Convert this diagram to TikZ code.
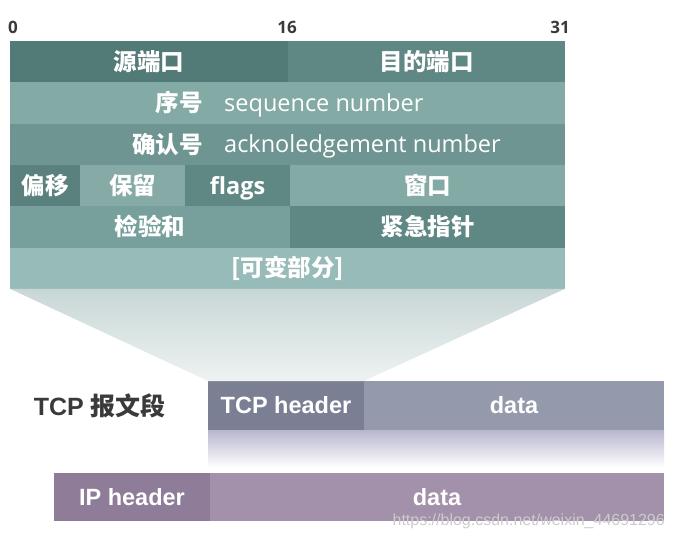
\documentclass[tikz,border=0pt]{standalone}
\usepackage{fontspec}
\setmainfont{Open Sans}
\newfontfamily\cjk{Noto Sans CJK SC}
\newfontfamily\arial{Liberation Sans}
\usepackage{tikz}
\usetikzlibrary{positioning}

\definecolor{srcC}{HTML}{527A76}
\definecolor{dstC}{HTML}{5F8784}
\definecolor{seqC}{HTML}{84AAA6}
\definecolor{ackC}{HTML}{6E9592}
\definecolor{offC}{HTML}{5A817D}
\definecolor{rsvC}{HTML}{86ABA7}
\definecolor{flgC}{HTML}{5F8783}
\definecolor{winC}{HTML}{84AAA6}
\definecolor{chkC}{HTML}{77A09C}
\definecolor{urgC}{HTML}{5F8783}
\definecolor{optC}{HTML}{97BBB8}
\definecolor{trapTop}{HTML}{C8D7D6}
\definecolor{trapBot}{HTML}{EEF2F2}
\definecolor{tcphC}{HTML}{7A7F94}
\definecolor{tcpdC}{HTML}{9499AC}
\definecolor{fadeC}{HTML}{B8B6CE}
\definecolor{iphC}{HTML}{8E7C98}
\definecolor{ipdC}{HTML}{A390AA}
\definecolor{numC}{HTML}{3A3A3A}

\begin{document}
\begin{tikzpicture}[
  x=1pt, y=-1pt,
  cell/.style={fill=#1, minimum height=41.3pt, inner sep=0pt, outer sep=0pt,
    text=white, font=\cjk\bfseries\fontsize{23.5}{23.5}\selectfont},
  cntext/.style={inner sep=0pt, text=white, font=\cjk\bfseries\fontsize{23.5}{23.5}\selectfont},
  entext/.style={inner sep=0pt, text=white, yshift=-2pt, font=\fontsize{23.5}{23.5}\selectfont},
  bitnum/.style={inner sep=0pt, text=numC, font=\bfseries\fontsize{17}{17}\selectfont},
  pkt/.style={fill=#1, inner sep=0pt, outer sep=0pt, text=white,
    font=\arial\bfseries\fontsize{23.5}{23.5}\selectfont}
]
\useasboundingbox (0,0) rectangle (676,540);

% Bit positions
\node[bitnum] (b0) at (13,27) {0};
\node[bitnum] (b16) at (287,27) {16};
\node[bitnum] (b31) at (560,27) {31};

% Header rows
\node[cell=srcC, minimum width=278pt, anchor=north west] (src) at (10,41) {源端口};
\node[cell=dstC, minimum width=277pt, right=0pt of src] (dst) {目的端口};
\node[cell=seqC, minimum width=555pt, below right=0pt and 0pt of src.south west] (seq) {};
\node[cell=ackC, minimum width=555pt, below right=0pt and 0pt of seq.south west] (ack) {};
\node[cell=offC, minimum width=70pt, below right=0pt and 0pt of ack.south west] (off) {偏移};
\node[cell=rsvC, minimum width=105pt, right=0pt of off] (rsv) {保留};
\node[cell=flgC, minimum width=105pt, right=0pt of rsv, text depth=0pt,
  font=\bfseries\fontsize{23.5}{23.5}\selectfont] (flg) {flags};
\node[cell=winC, minimum width=275pt, right=0pt of flg] (win) {窗口};
\node[cell=chkC, minimum width=280pt, below right=0pt and 0pt of off.south west] (chk) {检验和};
\node[cell=urgC, minimum width=275pt, right=0pt of chk] (urg) {紧急指针};
\node[cell=optC, minimum width=555pt, below right=0pt and 0pt of chk.south west] (opt) {[可变部分]};

% Split labels
\node[cntext, anchor=east, xshift=193pt] (seqzh) at (seq.west) {序号};
\node[entext, anchor=west, xshift=214pt] (seqen) at (seq.west) {sequence number};
\node[cntext, anchor=east, xshift=193pt] (ackzh) at (ack.west) {确认号};
\node[entext, anchor=west, xshift=214pt] (acken) at (ack.west) {acknoledgement number};

% TCP segment
\node[pkt=tcphC, minimum width=156pt, minimum height=49pt, anchor=north west] (tcph) at (208,381) {TCP header};
\node[pkt=tcpdC, minimum width=300pt, minimum height=49pt, right=0pt of tcph] (tcpd) {data};
\node[inner sep=0pt, text=numC, left=42pt of tcph] (seglbl)
  {\arial\bfseries\fontsize{25}{25}\selectfont TCP {\cjk\bfseries 报文段}};

% Zoom wedge
\shade[top color=trapTop, bottom color=trapBot]
  (opt.south west) -- (opt.south east) -- (tcph.north east) -- (tcph.north west) -- cycle;
\coordinate (fadeend) at (664,468);
\shade[top color=fadeC, bottom color=white] (tcph.south west) rectangle (fadeend);

% IP packet
\node[pkt=iphC, minimum width=156pt, minimum height=48pt, anchor=north west] (iph) at (54,473) {IP header};
\node[pkt=ipdC, minimum width=454pt, minimum height=48pt, right=0pt of iph] (ipd) {data};

% Watermark
\node[inner sep=0pt, anchor=east, text=black!20, font=\arial\fontsize{16}{16}\selectfont] (wm)
  at (665,521) {https://blog.csdn.net/weixin\_44691296};
\end{tikzpicture}
\end{document}
